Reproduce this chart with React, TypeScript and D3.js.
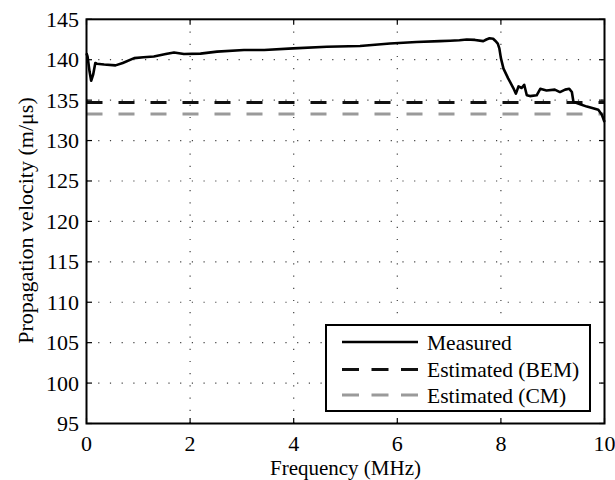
import React from "react";
import * as d3 from "d3";

const freqMHz = [0, 0.02, 0.06, 0.09, 0.13, 0.17, 0.2, 0.34, 0.56, 0.7, 0.92, 1.1, 1.3, 1.53, 1.69, 1.88, 2.2, 2.52, 3.04, 3.43, 3.99, 4.64, 5.28, 5.86, 6.37, 6.82, 7.02, 7.2, 7.34, 7.5, 7.66, 7.72, 7.78, 7.85, 7.89, 7.94, 7.97, 8.0, 8.05, 8.14, 8.24, 8.29, 8.34, 8.4, 8.45, 8.5, 8.56, 8.69, 8.76, 8.88, 9.04, 9.14, 9.24, 9.32, 9.37, 9.4, 9.53, 9.66, 9.78, 9.88, 9.95, 10.0];
const measured = [140.8, 140.4, 138.5, 137.4, 138.2, 139.6, 139.5, 139.4, 139.3, 139.6, 140.2, 140.3, 140.4, 140.7, 140.9, 140.7, 140.75, 141.0, 141.2, 141.2, 141.4, 141.6, 141.7, 142.0, 142.2, 142.3, 142.35, 142.4, 142.5, 142.45, 142.3, 142.5, 142.65, 142.6, 142.35, 142.0, 141.4, 140.2, 138.9, 137.7, 136.5, 135.8, 136.7, 136.5, 136.9, 135.6, 135.5, 135.6, 136.4, 136.2, 136.3, 136.0, 136.3, 136.4, 136.0, 134.8, 134.5, 134.2, 134.0, 133.8, 133.2, 132.3];
const estimatedBEM = 134.7;
const estimatedCM = 133.3;
const xTicks = [0, 2, 4, 6, 8, 10];
const yTicks = [95, 100, 105, 110, 115, 120, 125, 130, 135, 140, 145];
const legendLabels = ["Measured", "Estimated (BEM)", "Estimated (CM)"];

export default function App() {
  const left = 86.5, right = 604.5, top = 19.3, bottom = 423.5;
  const x = d3.scaleLinear().domain([0, 10]).range([left, right]);
  const y = d3.scaleLinear().domain([95, 145]).range([bottom, top]);
  const line = d3.line<number>().x((_, i) => x(freqMHz[i])).y((d) => y(d));
  const font = "'Liberation Serif', 'DejaVu Serif', serif";
  const fs = 22;
  const tickLen = 5.5;
  const gridColor = "#444";
  const legX = 326, legY = 325, legW = 264, legH = 86;
  const rowY = [342, 369.5, 395];
  return (
    <svg width={615} height={480} style={{ position: "absolute", left: 0, top: 0, background: "#fff", fontFamily: font }}>
      <rect x={0} y={0} width={615} height={480} fill="#fff" />
      {xTicks.slice(1, -1).map((t) => (
        <line key={"gx" + t} x1={x(t)} x2={x(t)} y1={top} y2={bottom} stroke={gridColor} strokeWidth={1.2} strokeDasharray="1.2,11" />
      ))}
      {yTicks.slice(1, -1).map((t) => (
        <line key={"gy" + t} x1={left} x2={right} y1={y(t)} y2={y(t)} stroke={gridColor} strokeWidth={1.2} strokeDasharray="1.2,10.5" />
      ))}
      <line x1={x(0)} x2={x(10)} y1={y(estimatedCM)} y2={y(estimatedCM)} stroke="#9a9a9a" strokeWidth={3} strokeDasharray="16,16" />
      <line x1={x(0)} x2={x(10)} y1={y(estimatedBEM)} y2={y(estimatedBEM)} stroke="#111" strokeWidth={3} strokeDasharray="16,16" />
      <path d={line(measured) || ""} fill="none" stroke="#000" strokeWidth={2.6} strokeLinejoin="round" />
      {xTicks.map((t) => (
        <g key={"tx" + t}>
          <line x1={x(t)} x2={x(t)} y1={bottom} y2={bottom - tickLen} stroke="#000" strokeWidth={1.2} />
          <line x1={x(t)} x2={x(t)} y1={top} y2={top + tickLen} stroke="#000" strokeWidth={1.2} />
          <text x={x(t)} y={450.5} textAnchor="middle" fontSize={fs}>{t}</text>
        </g>
      ))}
      {yTicks.map((t) => (
        <g key={"ty" + t}>
          <line x1={left} x2={left + tickLen} y1={y(t)} y2={y(t)} stroke="#000" strokeWidth={1.2} />
          <line x1={right} x2={right - tickLen} y1={y(t)} y2={y(t)} stroke="#000" strokeWidth={1.2} />
          <text x={79} y={y(t) + 7.5} textAnchor="end" fontSize={fs}>{t}</text>
        </g>
      ))}
      <rect x={left} y={top} width={right - left} height={bottom - top} fill="none" stroke="#000" strokeWidth={2} />
      <text x={(left + right) / 2} y={475} textAnchor="middle" fontSize={21}>Frequency (MHz)</text>
      <text transform={`translate(33,220.5) rotate(-90)`} textAnchor="middle" fontSize={fs}>Propagation velocity (m/μs)</text>
      <rect x={legX} y={legY} width={legW} height={legH} fill="#fff" stroke="#000" strokeWidth={2} />
      <line x1={342} x2={418} y1={rowY[0]} y2={rowY[0]} stroke="#000" strokeWidth={2.6} />
      <line x1={342} x2={418} y1={rowY[1]} y2={rowY[1]} stroke="#111" strokeWidth={3} strokeDasharray="17,12.5" />
      <line x1={342} x2={418} y1={rowY[2]} y2={rowY[2]} stroke="#9a9a9a" strokeWidth={3} strokeDasharray="17,12.5" />
      {legendLabels.map((l, i) => (
        <text key={l} x={427} y={rowY[i] + 7.5} fontSize={21.5}>{l}</text>
      ))}
    </svg>
  );
}
